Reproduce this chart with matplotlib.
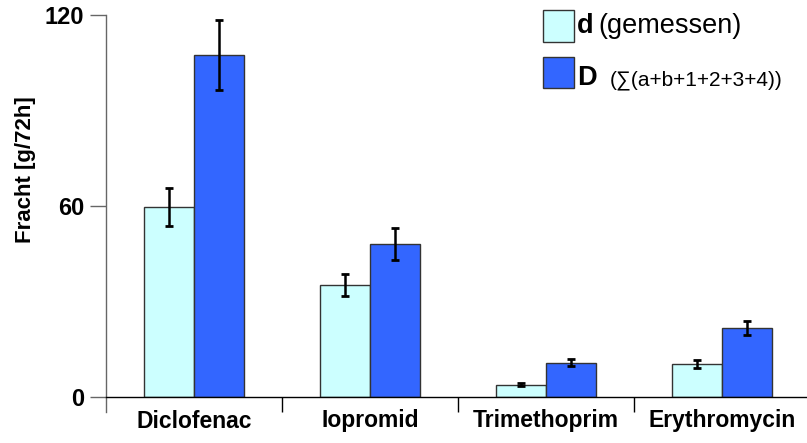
import matplotlib
matplotlib.use("Agg")
import matplotlib.pyplot as plt
from matplotlib.patches import Rectangle
from matplotlib.lines import Line2D
import numpy as np

plt.rcParams['font.family'] = ['Liberation Sans', 'DejaVu Sans']

categories = ["Diclofenac", "Iopromid", "Trimethoprim", "Erythromycin"]
measured = [59.7, 35.2, 3.9, 10.4]
measured_err = [6.0, 3.5, 0.4, 1.2]
summed = [107.4, 48.1, 10.8, 21.7]
summed_err = [11.0, 5.0, 1.2, 2.3]
yticks = [0, 60, 120]

W, H = 807, 443
fig = plt.figure(figsize=(W / 100, H / 100), dpi=100)
ax = fig.add_axes([106 / W, (H - 397) / H, (810 - 106) / W, 382 / H])

x = np.arange(len(categories))
bw = 0.285
light = "#CCFFFF"
dark = "#3366FF"
ek = dict(ecolor="black", elinewidth=1.8, capsize=3, capthick=2)
ax.bar(x - bw / 2, measured, bw, color=light, edgecolor="#333333", linewidth=1,
       yerr=measured_err, error_kw=ek, zorder=2)
ax.bar(x + bw / 2, summed, bw, color=dark, edgecolor="#333333", linewidth=1,
       yerr=summed_err, error_kw=ek, zorder=2)

ax.set_xlim(-0.5, 3.5)
ax.set_ylim(0, 120)

for s in ["top", "right", "left"]:
    ax.spines[s].set_visible(False)
ax.spines["bottom"].set_color("black")
ax.spines["bottom"].set_linewidth(1)

# left axis line extending below zero
ax.add_line(Line2D([0, 0], [-15 / 382, 1], transform=ax.transAxes, color="#666666",
                   linewidth=1, clip_on=False))

ax.set_yticks(yticks)
ax.set_yticklabels([str(v) for v in yticks], fontsize=17, fontweight="bold")
ax.tick_params(axis="y", length=11.5, width=1, color="#666666", pad=4)

ax.set_xticks(x)
ax.set_xticklabels(categories, fontsize=16.5, fontweight="bold")
ax.tick_params(axis="x", which="major", length=0, pad=9)
ax.set_xticks([0.5, 1.5, 2.5], minor=True)
ax.tick_params(axis="x", which="minor", length=11, width=1, color="black", direction="out")

ax.set_ylabel("Fracht [g/72h]", fontsize=16, fontweight="bold")
ax.yaxis.set_label_coords((36 - 106) / 704, (397 - 170) / 382)

# legend (manual)
fig.patches.append(Rectangle((543 / W, 1 - 42 / H), 31 / W, 32 / H, transform=fig.transFigure,
                             facecolor=light, edgecolor="#333333", linewidth=1))
fig.patches.append(Rectangle((543 / W, 1 - 88 / H), 31 / W, 31 / H, transform=fig.transFigure,
                             facecolor=dark, edgecolor="#333333", linewidth=1))
fig.text(577 / W, 1 - 33 / H, "d", fontsize=19.5, fontweight="bold", va="baseline", ha="left")
fig.text(598 / W, 1 - 33 / H, "(gemessen)", fontsize=19.5, va="baseline", ha="left")
fig.text(577 / W, 1 - 85 / H, "D", fontsize=19.5, fontweight="bold", va="baseline", ha="left")
fig.text(610 / W, 1 - 85 / H, "(∑(a+b+1+2+3+4))", fontsize=15, va="baseline", ha="left",
         family=["Liberation Sans", "DejaVu Sans"])

fig.savefig("out.png", dpi=100)
